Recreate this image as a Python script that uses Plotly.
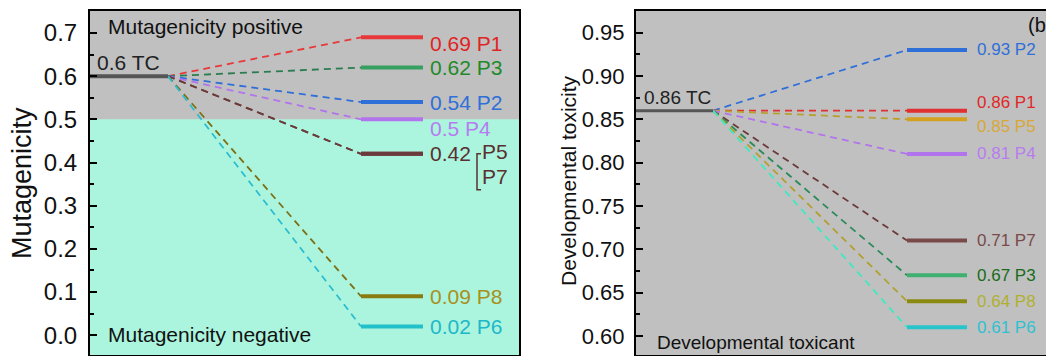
import plotly.graph_objects as go

# ---------------- data ----------------
# Panel (a): Mutagenicity
tc_a = 0.6
names_a = ["P1", "P3", "P2", "P4", "P5", "P7", "P8", "P6"]
values_a = [0.69, 0.62, 0.54, 0.50, 0.42, 0.42, 0.09, 0.02]
line_col_a = ["#e8383a", "#35a060", "#2f6fd8", "#b274ec", "#6b3b3b", "#6b3b3b", "#8a7a12", "#22c0c8"]
dash_col_a = ["#e8383a", "#2a7d50", "#2f6fd8", "#b274ec", "#6b3b3b", "#6b3b3b", "#7d6f14", "#2cbcd0"]
text_col_a = ["#e02424", "#1f8a2a", "#2f6fd8", "#b77cf0", "#5a3030", "#5a3030", "#a89020", "#20b8c8"]
label_shift_a = [-6, 0, 0, -9, 0, 0, 0, 0]   # px offsets of labels

# Panel (b): Developmental toxicity
tc_b = 0.86
names_b = ["P2", "P1", "P5", "P4", "P7", "P3", "P8", "P6"]
values_b = [0.93, 0.86, 0.85, 0.81, 0.71, 0.67, 0.64, 0.61]
line_col_b = ["#2f6fd8", "#e03030", "#d4a020", "#b274ec", "#7a4a4a", "#40b070", "#8a8a10", "#28c4cc"]
dash_col_b = ["#2f6fd8", "#e03030", "#b8a030", "#b274ec", "#6b3a3a", "#2a8a5a", "#b0a030", "#40e8c0"]
text_col_b = ["#2f6fd8", "#e02828", "#d9a838", "#b77cf0", "#7a4a4a", "#1a6b1a", "#b0b030", "#30c0d0"]
label_shift_b = [0, 8, -7, 0, 0, 0, 0, 0]

FONT = "Arial, Liberation Sans, sans-serif"
OFF = 8                      # page body margin offset
W, H = 1054 - OFF, 356 - OFF
TOP, BOT = 11 - OFF, 355 - OFF

fig = go.Figure()

# geometry (pixel-like x units relative to each axis start)
geo_a = dict(tc_end=78, seg0=271, seg1=333, lab=338, xmax=429)
geo_b = dict(tc_end=77, seg0=271, seg1=331, lab=339, xmax=418)


def add_panel(xa, ya, tc, vals, lcol, dcol, geo, tcw):
    for v, dc in zip(vals, dcol):
        fig.add_trace(go.Scatter(x=[geo["tc_end"], geo["seg0"]], y=[tc, v], mode="lines",
                                 line=dict(color=dc, width=1.8, dash="7px,5px"),
                                 xaxis=xa, yaxis=ya, hoverinfo="skip", showlegend=False))
    for v, lc in zip(vals, lcol):
        fig.add_trace(go.Scatter(x=[geo["seg0"], geo["seg1"]], y=[v, v], mode="lines",
                                 line=dict(color=lc, width=4),
                                 xaxis=xa, yaxis=ya, hoverinfo="skip", showlegend=False))
    fig.add_trace(go.Scatter(x=[0, geo["tc_end"]], y=[tc, tc], mode="lines",
                             line=dict(color="#555555", width=tcw),
                             xaxis=xa, yaxis=ya, hoverinfo="skip", showlegend=False))


add_panel("x", "y", tc_a, values_a, line_col_a, dash_col_a, geo_a, 4)
add_panel("x2", "y2", tc_b, values_b, line_col_b, dash_col_b, geo_b, 3)

ann = []
# labels panel (a)
seen = set()
for n, v, c, s in zip(names_a, values_a, text_col_a, label_shift_a):
    if v in seen:
        continue
    dup = [nn for nn, vv in zip(names_a, values_a) if vv == v]
    if len(dup) == 1:
        ann.append(dict(x=geo_a["lab"], y=v, xref="x", yref="y", text=f"{v:g} {n}",
                        xanchor="left", yanchor="middle", yshift=s, showarrow=False,
                        font=dict(size=21, color=c, family=FONT)))
    else:
        ann.append(dict(x=geo_a["lab"], y=v, xref="x", yref="y", text=f"{v:g}",
                        xanchor="left", yanchor="middle", yshift=s, showarrow=False,
                        font=dict(size=21, color=c, family=FONT)))
        bx = geo_a["lab"] + 49
        for k, dn in enumerate(dup):
            ann.append(dict(x=bx + 3, y=v, xref="x", yref="y", text=dn,
                            xanchor="left", yanchor="middle", yshift=2 - 25 * k, showarrow=False,
                            font=dict(size=21, color=c, family=FONT)))
        # bracket
        fig.add_shape(type="path", xref="x", yref="y",
                      path=f"M {bx+4},{v} L {bx},{v} L {bx},{v-0.083} L {bx+4},{v-0.083}",
                      line=dict(color=c, width=1.5))
    seen.add(v)

for n, v, c, s in zip(names_b, values_b, text_col_b, label_shift_b):
    ann.append(dict(x=geo_b["lab"], y=v, xref="x2", yref="y2", text=f"{v:g} {n}",
                    xanchor="left", yanchor="middle", yshift=s, showarrow=False,
                    font=dict(size=17, color=c, family=FONT)))

# TC labels
ann.append(dict(x=5, y=tc_a, xref="x", yref="y", text=f"{tc_a:g} TC", xanchor="left",
                yanchor="middle", yshift=14, showarrow=False,
                font=dict(size=21, color="#222", family=FONT)))
ann.append(dict(x=6, y=tc_b, xref="x2", yref="y2", text=f"{tc_b:g} TC", xanchor="left",
                yanchor="middle", yshift=13, showarrow=False,
                font=dict(size=19, color="#222", family=FONT)))


# region texts (positions given in page pixels, converted)
def py(p):
    return (BOT - (p - OFF)) / (BOT - TOP)


def px(p):
    return (p - OFF) / W


ann += [
    dict(x=16, y=py(27), xref="x", yref="paper", text="Mutagenicity positive", xanchor="left",
         yanchor="middle", showarrow=False, font=dict(size=21, color="#111", family=FONT)),
    dict(x=16, y=py(334), xref="x", yref="paper", text="Mutagenicity negative", xanchor="left",
         yanchor="middle", showarrow=False, font=dict(size=21, color="#111", family=FONT)),
    dict(x=19, y=py(342), xref="x2", yref="paper", text="Developmental toxicant", xanchor="left",
         yanchor="middle", showarrow=False, font=dict(size=19, color="#111", family=FONT)),
    dict(x=431, y=py(25), xref="x", yref="paper", text="(a)", xanchor="right",
         yanchor="middle", showarrow=False, font=dict(size=22, color="#111", family=FONT)),
    dict(x=1.0, y=py(25), xref="paper", yref="paper", text="(b)", xanchor="right",
         yanchor="middle", showarrow=False, font=dict(size=20, color="#111", family=FONT)),
    dict(x=px(22), y=py(183), xref="paper", yref="paper", text="Mutagenicity", textangle=-90,
         xanchor="center", yanchor="middle", showarrow=False,
         font=dict(size=27, color="#111", family=FONT)),
    dict(x=px(568), y=py(181), xref="paper", yref="paper", text="Developmental toxicity",
         textangle=-90, xanchor="center", yanchor="middle", showarrow=False,
         font=dict(size=21, color="#111", family=FONT)),
]

# aquamarine region (negative) for panel (a)
fig.add_shape(type="rect", xref="x domain", yref="y", x0=0, x1=1, y0=-0.046, y1=0.5,
              fillcolor="#abf5df", line=dict(width=0), layer="below")

axcommon = dict(showline=True, linecolor="black", linewidth=2, mirror=True, showgrid=False,
                zeroline=False)
fig.update_layout(
    width=W, height=H,
    margin=dict(l=0, r=0, t=TOP, b=H - BOT, autoexpand=False),
    paper_bgcolor="white", plot_bgcolor="#c0c0c0",
    showlegend=False,
    annotations=ann,
    xaxis=dict(domain=[px(90), px(519)], range=[0, geo_a["xmax"]], showticklabels=False,
               ticks="", **axcommon),
    xaxis2=dict(domain=[px(636), 1.0], range=[0, geo_b["xmax"]], showticklabels=False,
                ticks="", **axcommon),
    yaxis=dict(range=[-0.046, 0.751], tickvals=[0, 0.1, 0.2, 0.3, 0.4, 0.5, 0.6, 0.7],
               ticktext=["0.0", "0.1", "0.2", "0.3", "0.4", "0.5", "0.6", "0.7"],
               ticks="inside", ticklen=7, tickwidth=2, tickcolor="black",
               minor=dict(dtick=0.05, tick0=0, ticks="inside", ticklen=4, tickwidth=2,
                          tickcolor="black"),
               tickfont=dict(size=24, color="#111", family=FONT), ticklabelstandoff=6,
               **axcommon),
    yaxis2=dict(range=[0.578, 0.975], anchor="x2",
                tickvals=[0.60, 0.65, 0.70, 0.75, 0.80, 0.85, 0.90, 0.95],
                ticktext=["0.60", "0.65", "0.70", "0.75", "0.80", "0.85", "0.90", "0.95"],
                ticks="inside", ticklen=7, tickwidth=2, tickcolor="black",
                minor=dict(dtick=0.025, tick0=0.6, ticks="inside", ticklen=4, tickwidth=2,
                           tickcolor="black"),
                tickfont=dict(size=22, color="#111", family=FONT), ticklabelstandoff=5,
                **axcommon),
)

fig.write_html("out.html")
